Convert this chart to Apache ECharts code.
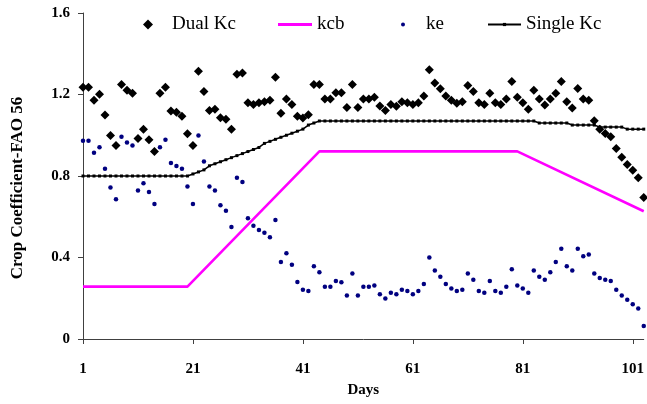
<!DOCTYPE html>
<html>
<head>
<meta charset="utf-8">
<script src="https://cdn.jsdelivr.net/npm/echarts@6/dist/echarts.min.js"></script>
<style>html,body{margin:0;padding:0;background:#fff;}#c{width:647px;height:404px;}</style>
</head>
<body>
<div id="c"></div>
<script>
// Days 1..103
const days = Array.from({length: 103}, (_, i) => i + 1);

const dualKc = [
1.236,1.236,1.172,1.201,1.099,0.999,0.950,1.249,1.221,1.206,
0.984,1.029,0.978,0.920,1.206,1.236,1.119,1.113,1.093,1.007,
0.950,1.314,1.215,1.121,1.127,1.086,1.078,1.029,1.300,1.305,
1.159,1.151,1.159,1.165,1.172,1.285,1.108,1.178,1.151,1.093,
1.085,1.101,1.249,1.249,1.178,1.178,1.208,1.208,1.136,1.249,
1.136,1.178,1.178,1.187,1.144,1.121,1.151,1.142,1.165,1.159,
1.151,1.159,1.193,1.322,1.257,1.228,1.193,1.172,1.157,1.164,
1.244,1.215,1.159,1.151,1.206,1.159,1.151,1.178,1.264,1.187,
1.159,1.127,1.221,1.178,1.149,1.178,1.206,1.264,1.164,1.134,
1.230,1.178,1.172,1.071,1.029,1.009,0.993,0.935,0.892,0.857,
0.828,0.792,0.694
];

const ke = [
0.973,0.973,0.914,0.941,0.836,0.744,0.686,0.993,0.964,0.950,
0.729,0.764,0.721,0.663,0.941,0.978,0.864,0.849,0.836,0.749,
0.663,0.999,0.871,0.749,0.729,0.657,0.629,0.550,0.792,0.770,
0.593,0.556,0.535,0.522,0.499,0.584,0.378,0.421,0.365,0.280,
0.242,0.235,0.357,0.327,0.257,0.257,0.285,0.278,0.214,0.321,
0.214,0.257,0.257,0.263,0.220,0.199,0.227,0.220,0.242,0.235,
0.220,0.235,0.270,0.400,0.336,0.306,0.270,0.248,0.235,0.242,
0.321,0.291,0.235,0.227,0.285,0.235,0.227,0.257,0.342,0.263,
0.248,0.227,0.336,0.306,0.291,0.327,0.378,0.443,0.357,0.336,
0.443,0.406,0.415,0.321,0.299,0.291,0.285,0.242,0.214,0.193,
0.171,0.150,0.064
];

const singleKc = [
0.80,0.80,0.80,0.80,0.80,0.80,0.80,0.80,0.80,0.80,
0.80,0.80,0.80,0.80,0.80,0.80,0.80,0.80,0.80,0.80,
0.81,0.82,0.83,0.85,0.86,0.87,0.88,0.89,0.90,0.91,
0.92,0.93,0.94,0.96,0.97,0.98,0.99,1.00,1.01,1.02,
1.03,1.05,1.06,1.07,1.07,1.07,1.07,1.07,1.07,1.07,
1.07,1.07,1.07,1.07,1.07,1.07,1.07,1.07,1.07,1.07,
1.07,1.07,1.07,1.07,1.07,1.07,1.07,1.07,1.07,1.07,
1.07,1.07,1.07,1.07,1.07,1.07,1.07,1.07,1.07,1.07,
1.07,1.07,1.07,1.06,1.06,1.06,1.06,1.06,1.06,1.05,
1.05,1.05,1.05,1.05,1.04,1.04,1.04,1.04,1.04,1.03,
1.03,1.03,1.03
];

// kcb line vertices (days and values read at the corners)
const kcbDays = [1, 20, 44, 80, 103];
const kcbValues = [0.257, 0.257, 0.921, 0.921, 0.627];

const xTicks = [1, 21, 41, 61, 81, 101];

const pair = (xs, ys) => xs.map((x, i) => [x, ys[i]]);

const serif = "'Liberation Serif', 'Times New Roman', serif";
const axisColor = '#404040';

const chart = echarts.init(document.getElementById('c'), null, {renderer: 'canvas'});

function legendAt(name, left, extra) {
  return Object.assign({
    data: [name],
    left: left,
    top: 15,
    padding: 0,
    itemGap: 0,
    textStyle: {fontFamily: serif, fontSize: 19, color: '#000'},
    selectedMode: false
  }, extra || {});
}

chart.setOption({
  animation: false,
  backgroundColor: '#fff',
  grid: {left: 83, right: 1, top: 13, bottom: 65, containLabel: false},
  legend: [
    legendAt('Dual Kc', 143, {icon: 'diamond', itemWidth: 10, itemHeight: 10,
      textStyle: {fontFamily: serif, fontSize: 19, color: '#000', padding: [0, 0, 0, 14]}}),
    legendAt('kcb', 278, {icon: 'rect', itemWidth: 34, itemHeight: 3}),
    legendAt('ke', 401, {icon: 'circle', itemWidth: 4, itemHeight: 4,
      textStyle: {fontFamily: serif, fontSize: 19, color: '#000', padding: [0, 0, 0, 16]}}),
    legendAt('Single Kc', 487, {itemWidth: 33, itemHeight: 4})
  ],
  xAxis: {
    type: 'value',
    min: 1, max: 103, interval: 20,
    name: 'Days',
    nameLocation: 'middle',
    nameGap: 44,
    nameTextStyle: {fontFamily: serif, fontSize: 15, fontWeight: 'bold', color: '#000'},
    axisLine: {lineStyle: {color: axisColor, width: 1}},
    axisTick: {show: true, customValues: xTicks, length: 5, inside: false, lineStyle: {color: axisColor}},
    axisLabel: {customValues: xTicks, margin: 23, fontFamily: serif, fontSize: 15, fontWeight: 'bold', color: '#000'},
    splitLine: {show: false}
  },
  yAxis: {
    type: 'value',
    min: 0, max: 1.6, interval: 0.4,
    name: 'Crop Coefficient-FAO 56',
    nameLocation: 'middle',
    nameGap: 57,
    nameTextStyle: {fontFamily: serif, fontSize: 17, fontWeight: 'bold', color: '#000', padding: [0, 24, 0, 0]},
    axisLine: {show: true, lineStyle: {color: axisColor, width: 1}},
    axisTick: {show: true, length: 5, lineStyle: {color: axisColor}},
    axisLabel: {margin: 13, fontFamily: serif, fontSize: 15, fontWeight: 'bold', color: '#000',
      formatter: v => String(+v.toFixed(1))},
    splitLine: {show: false}
  },
  series: [
    {
      name: 'Dual Kc', type: 'scatter', symbol: 'diamond', symbolSize: 9,
      itemStyle: {color: '#000', opacity: 1},
      data: pair(days, dualKc), z: 4
    },
    {
      name: 'kcb', type: 'line', symbol: 'none', showSymbol: false,
      lineStyle: {color: '#FF00FF', width: 2.6},
      itemStyle: {color: '#FF00FF'},
      data: pair(kcbDays, kcbValues), z: 2
    },
    {
      name: 'ke', type: 'scatter', symbol: 'circle', symbolSize: 4.5,
      itemStyle: {color: '#000080', opacity: 1},
      data: pair(days, ke), z: 3
    },
    {
      name: 'Single Kc', type: 'line', symbol: 'rect', symbolSize: 3, showSymbol: true,
      lineStyle: {color: '#000', width: 1.5},
      itemStyle: {color: '#000'},
      data: pair(days, singleKc), z: 3
    }
  ]
});
</script>
</body>
</html>
